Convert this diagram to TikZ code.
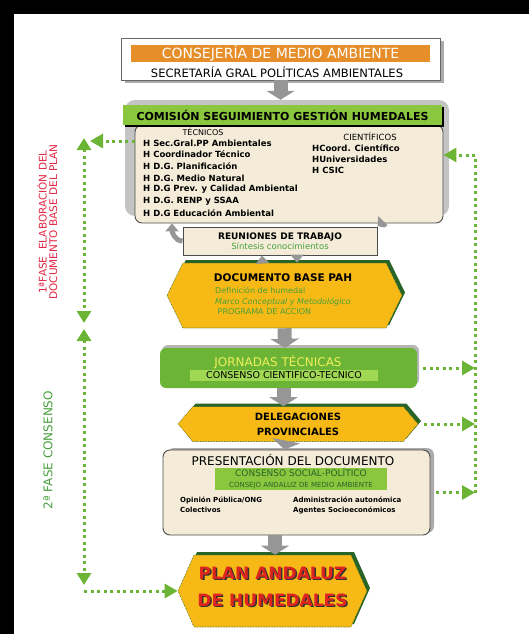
\documentclass[tikz,border=0pt]{standalone}
\usepackage{fontspec}
\setmainfont{DejaVu Sans}
\usetikzlibrary{arrows.meta,shapes.symbols,shadows}
\definecolor{naranja}{RGB}{230,142,42}
\definecolor{verde}{RGB}{108,180,54}
\definecolor{verdecab}{RGB}{138,198,62}
\definecolor{verdeclaro}{RGB}{160,216,84}
\definecolor{verdeosc}{RGB}{40,100,40}
\definecolor{verdetxt}{RGB}{70,160,60}
\definecolor{crema}{RGB}{244,236,217}
\definecolor{amarillo}{RGB}{247,185,22}
\definecolor{gris}{RGB}{150,150,150}
\definecolor{grisclaro}{RGB}{196,196,196}
\definecolor{rojo}{RGB}{226,38,68}
\definecolor{rojoplan}{RGB}{222,36,30}
\definecolor{amarillotxt}{RGB}{238,240,90}
\begin{document}
\begin{tikzpicture}[x=1pt,y=-1pt,
    caja/.style={draw=black!70,line width=0.9pt,fill=crema,rounded corners=7pt,inner sep=0pt},
    hexa/.style={shape=signal,signal to=west and east,fill=amarillo,draw=verdeosc,densely dotted,line width=0.6pt,inner sep=0pt,
        drop shadow={shadow xshift=3pt,shadow yshift=3pt,fill=verdeosc,opacity=1}},
    sombra/.style={drop shadow={shadow xshift=4pt,shadow yshift=-3pt,fill=gris!80,opacity=1}},
    flecha/.style={draw=gris,line width=14pt,-{Triangle[width=28pt,length=9pt]}},
    curva/.style={draw=gris,line width=5pt,-{Triangle[width=13pt,length=8pt]}},
    punteado/.style={draw=verde,line width=3pt,dash pattern=on 3pt off 3.5pt},
    retro/.style={punteado,-{Triangle[width=14pt,length=13pt]}},
    doble/.style={punteado,{Triangle[width=14pt,length=12pt]}-{Triangle[width=14pt,length=12pt]}},
    texto/.style={inner sep=0pt},
    linea/.style={anchor=west,inner sep=0pt,font=\fontsize{8.5}{9}\selectfont\bfseries}]
    \useasboundingbox (0,0) rectangle (529,634);
    \fill[black] (0,0) rectangle (529,14);
    \fill[black] (0,0) rectangle (14,634);

    \node[draw=black!60,line width=0.8pt,fill=white,minimum width=319pt,minimum height=42pt,sombra] (cma) at (280.5,59) {};
    \node[fill=naranja,minimum width=299pt,minimum height=17pt,inner sep=0pt,text=white,font=\fontsize{14}{14}\selectfont] (cmaT) at (280.5,53.5) {CONSEJERÍA DE MEDIO AMBIENTE};
    \node[texto,font=\fontsize{11.5}{11.5}\selectfont] (sec) at (277,72) {SECRETARÍA GRAL POLÍTICAS AMBIENTALES};

    \node[fill=grisclaro,rounded corners=10pt,minimum width=324pt,minimum height=116pt] (comfondo) at (287,158) {};
    \node[caja,minimum width=308pt,minimum height=98pt] (com) at (289,174) {};
    \node[fill=verdecab,minimum width=319pt,minimum height=20pt,inner sep=0pt,font=\fontsize{11}{11}\selectfont\bfseries,
        drop shadow={shadow xshift=2pt,shadow yshift=-2pt,fill=black,opacity=1}] (comT) at (282.5,115) {COMISIÓN SEGUIMIENTO GESTIÓN HUMEDALES};
    \node[texto,font=\fontsize{8}{8}\selectfont] (tec) at (203,132) {TÉCNICOS};
    \foreach \t [count=\i] in {H Sec.Gral.PP Ambientales,H Coordinador Técnico,H D.G. Planificación,H D.G. Medio Natural,H D.G Prev. y Calidad Ambiental,H D.G. RENP y SSAA,H D.G Educación Ambiental}
        \node[linea] (tec\i) at (143,{131.3+11.67*\i}) {\t};
    \node[texto,font=\fontsize{8.5}{8.5}\selectfont] (cie) at (370,137) {CIENTÍFICOS};
    \foreach \t [count=\i] in {HCoord. Científico,HUniversidades,H CSIC}
        \node[linea] (cie\i) at (312,{137+11*\i}) {\t};

    \node[caja,rounded corners=0pt,minimum width=194pt,minimum height=28pt,align=center,font=\fontsize{9}{10}\selectfont] (reu) at (280,241)
        {\textbf{REUNIONES DE TRABAJO}\\{\color{verdetxt}\fontsize{8.5}{9}\selectfont Síntesis conocimientos}};

    \node[hexa,minimum width=235pt,minimum height=65pt,signal pointer angle=128] (doc) at (284.5,295.5) {};
    \node[texto,font=\fontsize{10.5}{10.5}\selectfont\bfseries] (docT) at (283,278) {DOCUMENTO BASE PAH};
    \node[texto,anchor=west,align=left,text=verdetxt,font=\fontsize{8}{10.5}\selectfont] (docS) at (215,301)
        {Definición de humedal\\\textit{Marco Conceptual y Metodológico}\\\ PROGRAMA DE ACCION};

    \node[fill=verde,rounded corners=6pt,minimum width=257pt,minimum height=40pt,
        drop shadow={shadow xshift=2pt,shadow yshift=3pt,fill=gris!70,opacity=1}] (jor) at (288.5,368) {};
    \node[texto,text=amarillotxt,font=\fontsize{12}{12}\selectfont] (jorT) at (278,362) {JORNADAS TÉCNICAS};
    \node[fill=verdeclaro,minimum width=188pt,minimum height=11pt,inner sep=0pt,font=\fontsize{9.5}{9.5}\selectfont] (jorS) at (284,375.5) {CONSENSO CIENTIFICO-TECNICO};

    \node[hexa,minimum width=240pt,minimum height=35pt,signal pointer angle=100,align=center,font=\fontsize{10}{15}\selectfont\bfseries] (del) at (298,424)
        {DELEGACIONES\\PROVINCIALES};

    \node[caja,minimum width=267pt,minimum height=85pt,drop shadow={shadow xshift=4pt,shadow yshift=2pt,fill=gris!80,opacity=1}] (pres) at (296.5,492.5) {};
    \node[texto,font=\fontsize{12}{12}\selectfont] (presT) at (293,460) {PRESENTACIÓN DEL DOCUMENTO};
    \node[fill=verdecab,minimum width=172pt,minimum height=22pt,inner sep=0pt,align=center,text=verdeosc,font=\fontsize{9}{11}\selectfont] (presS) at (301,479)
        {CONSENSO SOCIAL-POLÍTICO\\{\fontsize{7}{7}\selectfont CONSEJO ANDALUZ DE MEDIO AMBIENTE}};
    \node[texto,anchor=west,align=left,font=\fontsize{7}{10}\selectfont\bfseries] (opi) at (180,505) {Opinión Pública/ONG\\Colectivos};
    \node[texto,anchor=west,align=left,font=\fontsize{7}{10}\selectfont\bfseries] (adm) at (293,505) {Administración autonómica\\Agentes Socioeconómicos};

    \node[hexa,minimum width=189pt,minimum height=72pt,signal pointer angle=132] (plan) at (272.5,591) {};
    \node[text=black!80,align=center,font=\fontsize{17}{27}\selectfont\bfseries] (planS) at ([shift={(1.5pt,3pt)}]plan.center) {PLAN ANDALUZ\\DE HUMEDALES};
    \node[text=rojoplan,align=center,font=\fontsize{17}{27}\selectfont\bfseries] (planT) at ([yshift=4.5pt]plan.center) {PLAN ANDALUZ\\DE HUMEDALES};

    \draw[flecha] (cma.south) -- ([xshift=-6.5pt]comfondo.north);
    \draw[flecha] (doc.south) -- ([xshift=-3.5pt]jor.north);
    \draw[flecha] ([xshift=-5pt]jor.south) -- ([xshift=-14.5pt]del.north);
    \draw[flecha] ([xshift=-12pt]del.south) -- ([xshift=-12pt]pres.north);
    \draw[flecha] ([xshift=-21.5pt]pres.south) -- ([xshift=2.5pt]plan.north);
    \draw[curva] (reu.west) to[out=180,in=-90] ([xshift=-117pt]com.south);
    \draw[curva] ([xshift=95pt]com.south) to[out=-80,in=45] (reu.north east);
    \draw[curva] ([xshift=-22pt]doc.north) -- ([xshift=-18pt]reu.south);
    \draw[curva] ([xshift=17pt]reu.south) -- ([xshift=12.5pt]doc.north);

    \coordinate (rt) at (475,155);
    \coordinate (rb) at (475,493);
    \draw[punteado] (rb) -- (rt);
    \draw[retro] (rt) -- (com.east |- rt);
    \foreach \n in {jor,del,pres}
        \draw[retro,shorten <=6pt] (\n.east) -- (\n.east -| rt);

    \coordinate (lt) at (84,138);
    \coordinate (lm) at (84,326);
    \coordinate (lb) at (84,591);
    \coordinate (li) at (90,141);
    \draw[doble] (lt) -- ([yshift=3pt]lm);
    \draw[doble] ([yshift=-3pt]lm) -- ([yshift=6pt]lb);
    \draw[retro] (com.west |- li) -- (li);
    \draw[retro] (lb) -- (plan.west);

    \node[rotate=90,align=center,text=rojo,font=\fontsize{10.5}{10.5}\selectfont] (fase1) at (47,222) {1ªFASE\ \ ELABORACIÓN DEL\\DOCUMENTO BASE DEL PLAN};
    \node[rotate=90,text=verdetxt,font=\fontsize{12}{12}\selectfont] (fase2) at (48,450) {2ª FASE CONSENSO};
\end{tikzpicture}
\end{document}
